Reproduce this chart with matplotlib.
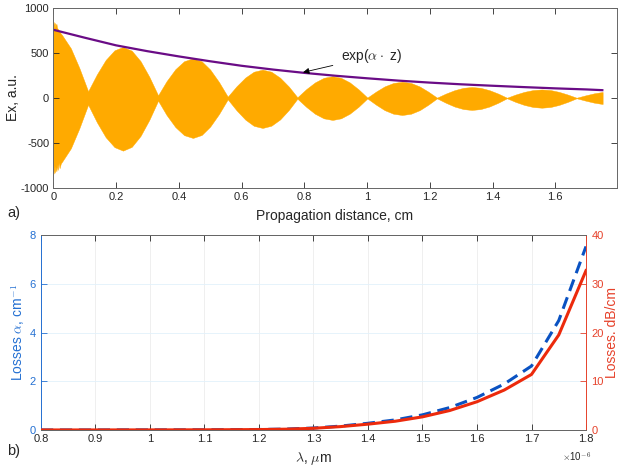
import matplotlib
matplotlib.use("Agg")
import matplotlib.pyplot as plt
from matplotlib.ticker import FormatStrFormatter

plt.rcParams["font.family"] = ["Liberation Sans", "DejaVu Sans"]
plt.rcParams["mathtext.fontset"] = "cm"
plt.rcParams["axes.unicode_minus"] = False

# --- a) field along the waveguide (envelope of the fast oscillation) ---
z_start = [0.000, 0.002, 0.004, 0.006, 0.008, 0.010, 0.012, 0.014, 0.017, 0.020, 0.024]
up_start = [700, 845, 780, 835, 800, 825, 780, 770, 752, 740, 716]
lo_start = [-700, -840, -760, -830, -770, -815, -740, -800, -720, -780, -728]

z_env = [0.028, 0.056, 0.083, 0.111, 0.139, 0.167, 0.195, 0.222, 0.250, 0.278,
         0.306, 0.334, 0.361, 0.389, 0.417, 0.445, 0.473, 0.500, 0.528, 0.556,
         0.584, 0.612, 0.639, 0.667, 0.695, 0.723, 0.751, 0.778, 0.806, 0.834,
         0.862, 0.890, 0.917, 0.945, 0.973, 1.001, 1.029, 1.056, 1.084, 1.112,
         1.140, 1.168, 1.195, 1.223, 1.251, 1.279, 1.307, 1.334, 1.362, 1.390,
         1.418, 1.446, 1.473, 1.501, 1.529, 1.557, 1.585, 1.612, 1.640, 1.668,
         1.696, 1.724, 1.751]
up_env = [699, 552, 334, 75, 263, 423, 530, 567, 526, 410,
          236, 30, 187, 320, 409, 440, 408, 316, 178, 15,
          130, 227, 292, 315, 292, 225, 126, 8, 98, 173,
          224, 242, 224, 173, 96, 5, 72, 129, 167, 180,
          167, 128, 71, 4, 49, 87, 113, 122, 113, 87,
          49, 3, 38, 68, 88, 95, 88, 68, 38, 3,
          29, 52, 67]
lo_env = [-708, -559, -337, -75, -270, -436, -546, -585, -543, -422,
          -243, -30, -189, -323, -413, -444, -411, -318, -179, -15,
          -137, -240, -309, -333, -308, -238, -132, -8, -98, -175,
          -226, -244, -226, -174, -97, -5, -75, -135, -175, -189,
          -175, -135, -75, -4, -53, -95, -123, -133, -123, -95,
          -53, -3, -43, -77, -100, -108, -100, -77, -43, -3,
          -29, -52, -67]

z_exp = [0.0, 0.1, 0.2, 0.3, 0.4, 0.5, 0.6, 0.7, 0.8, 0.9,
         1.0, 1.1, 1.2, 1.3, 1.4, 1.5, 1.6, 1.7, 1.75]
ex_exp = [758, 670, 585, 520, 462, 408, 358, 316, 279, 247,
          219, 193, 171, 152, 136, 121, 107, 95, 87]

# --- b) losses vs wavelength ---
lam = [0.80, 0.85, 0.90, 0.95, 1.00, 1.05, 1.10, 1.15, 1.20, 1.25, 1.30,
       1.35, 1.40, 1.45, 1.50, 1.55, 1.60, 1.65, 1.70, 1.75, 1.80]
loss_db = [0.01, 0.01, 0.01, 0.02, 0.02, 0.03, 0.04, 0.06, 0.09, 0.17, 0.35,
           0.70, 1.20, 1.80, 2.70, 4.00, 5.80, 8.20, 11.4, 19.5, 32.7]
loss_alpha = [0.002, 0.002, 0.002, 0.005, 0.005, 0.007, 0.009, 0.014, 0.021, 0.039, 0.081,
              0.161, 0.276, 0.414, 0.622, 0.921, 1.336, 1.888, 2.625, 4.49, 7.53]

orange = "#FFAA00"
purple = "#6A0C86"
blue_ax = "#2470D2"
blue_line = "#0A52C2"
red_ax = "#E6412A"
red_line = "#EC2A0C"
gray = "#666666"
txt = "#262626"

fig = plt.figure(figsize=(6.19, 4.70), dpi=100)

# top panel
ax = fig.add_axes([0.0861, 0.600, 0.9103, 0.383])
z_all = z_start + z_env
ax.fill_between(z_all, lo_start + lo_env, up_start + up_env, color=orange, lw=0.3, edgecolor=orange)
ax.plot(z_exp, ex_exp, color=purple, lw=1.6)
ax.set_xlim(0, 1.796)
ax.set_ylim(-1000, 1000)
ax.set_xticks([0, 0.2, 0.4, 0.6, 0.8, 1.0, 1.2, 1.4, 1.6])
ax.set_yticks([-1000, -500, 0, 500, 1000])
ax.xaxis.set_major_formatter(FormatStrFormatter("%g"))
ax.tick_params(direction="in", top=True, right=True, length=4, width=0.6,
               labelsize=8, colors=txt, pad=3)
for s in ax.spines.values():
    s.set_color(gray)
    s.set_linewidth(0.7)
ax.set_xlabel("Propagation distance, cm", fontsize=10, color=txt)
ax.xaxis.set_label_coords(0.5, -0.117)
ax.set_ylabel("Ex, a.u.", fontsize=10, color=txt)
ax.yaxis.set_label_coords(-0.0585, 0.5)
ax.annotate(r"exp($\alpha \cdot$ z)", xy=(0.796, 285), xytext=(0.917, 462),
            fontsize=10, color=txt, va="center",
            arrowprops=dict(arrowstyle="-|>", color="black", lw=0.6,
                            mutation_scale=9, shrinkA=4, shrinkB=0))
fig.text(0.012, 1 - 213 / 470, "a)", fontsize=10.5, color=txt, va="center")

# bottom panel
axl = fig.add_axes([0.0662, 0.0851, 0.8805, 0.4149])
axr = axl.twinx()
axl.plot(lam, loss_alpha, color=blue_line, lw=2.2, dashes=(4.0, 2.2))
axr.plot(lam, loss_db, color=red_line, lw=2.2)
axl.set_xlim(0.8, 1.8)
axl.set_ylim(0, 8)
axr.set_ylim(0, 40)
axl.set_xticks([0.8, 0.9, 1.0, 1.1, 1.2, 1.3, 1.4, 1.5, 1.6, 1.7, 1.8])
axl.xaxis.set_major_formatter(FormatStrFormatter("%g"))
axl.set_yticks([0, 2, 4, 6, 8])
axr.set_yticks([0, 10, 20, 30, 40])
axl.xaxis.grid(True, color="#ececec", lw=0.6)
axl.yaxis.grid(True, color="#e2f1fb", lw=0.6)
axl.set_axisbelow(True)
axl.tick_params(axis="x", direction="in", top=True, length=4, width=0.6,
                labelsize=8, colors=txt, pad=3)
axl.tick_params(axis="y", direction="in", length=4, width=0.6,
                labelsize=8, colors=blue_ax, pad=4)
axr.tick_params(axis="y", direction="in", length=4, width=0.6,
                labelsize=8, colors=red_ax, pad=4)
axl.spines["left"].set_color(blue_ax)
axl.spines["right"].set_visible(False)
axr.spines["left"].set_visible(False)
axr.spines["right"].set_color(red_ax)
for a in (axl, axr):
    a.spines["top"].set_color(gray)
    a.spines["bottom"].set_color(gray)
    for s in a.spines.values():
        s.set_linewidth(0.7)
axl.set_xlabel(r"$\lambda$, $\mu$m", fontsize=10, color=txt)
axl.xaxis.set_label_coords(0.5, -0.1)
axl.set_ylabel(r"Losses $\alpha$, cm$^{-1}$", fontsize=10, color=blue_ax)
axl.yaxis.set_label_coords(-0.0257, 0.5)
axr.set_ylabel("Losses. dB/cm", fontsize=10, color=red_ax)
axr.yaxis.set_label_coords(1.035, 0.5)
fig.text(591 / 619, 1 - 457 / 470, r"$\times$10$^{-6}$", fontsize=7, color=txt,
         ha="right", va="center")
fig.text(0.012, 1 - 451 / 470, "b)", fontsize=10.5, color=txt, va="center")

fig.savefig("out.png", dpi=100)
